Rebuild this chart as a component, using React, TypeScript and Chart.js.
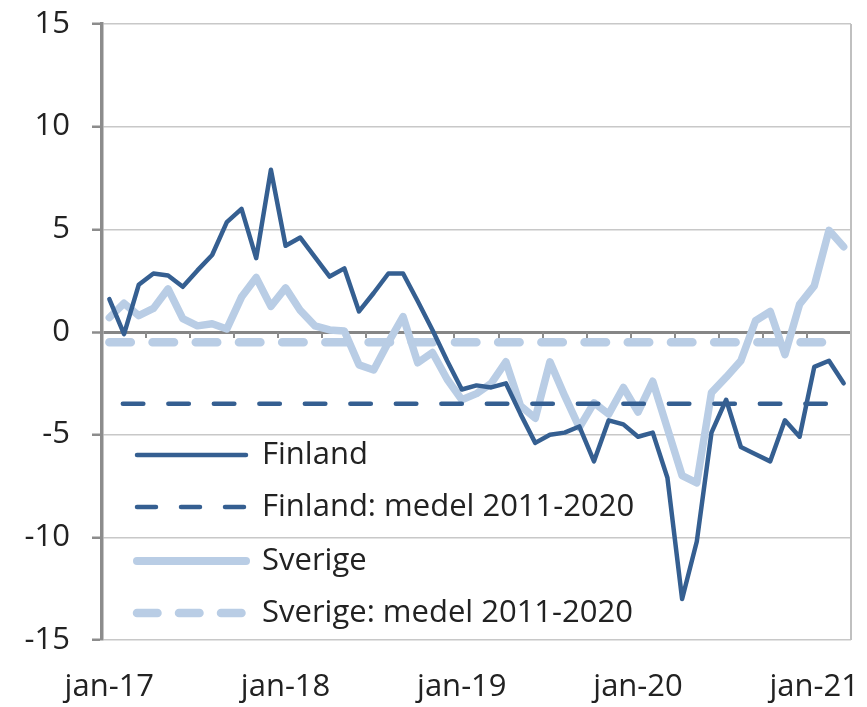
import React, { useEffect, useRef } from 'react';
import { Chart, registerables } from 'chart.js';

Chart.register(...registerables);

const months: string[] = [
  'jan-17', 'feb-17', 'mar-17', 'apr-17', 'maj-17', 'jun-17', 'jul-17', 'aug-17', 'sep-17', 'okt-17', 'nov-17', 'dec-17',
  'jan-18', 'feb-18', 'mar-18', 'apr-18', 'maj-18', 'jun-18', 'jul-18', 'aug-18', 'sep-18', 'okt-18', 'nov-18', 'dec-18',
  'jan-19', 'feb-19', 'mar-19', 'apr-19', 'maj-19', 'jun-19', 'jul-19', 'aug-19', 'sep-19', 'okt-19', 'nov-19', 'dec-19',
  'jan-20', 'feb-20', 'mar-20', 'apr-20', 'maj-20', 'jun-20', 'jul-20', 'aug-20', 'sep-20', 'okt-20', 'nov-20', 'dec-20',
  'jan-21', 'feb-21', 'mar-21',
];

const finland: number[] = [
  1.6, -0.1, 2.3, 2.85, 2.75, 2.2, 3.0, 3.75, 5.35, 6.0, 3.6, 7.9,
  4.2, 4.6, 3.65, 2.7, 3.1, 1.0, 1.9, 2.85, 2.85, 1.5, 0.1, -1.4,
  -2.8, -2.6, -2.7, -2.5, -4.0, -5.4, -5.0, -4.9, -4.6, -6.3, -4.3, -4.5,
  -5.1, -4.9, -7.1, -13.0, -10.2, -4.9, -3.3, -5.6, -5.95, -6.3, -4.3, -5.1,
  -1.7, -1.4, -2.5,
];

const sverige: number[] = [
  0.7, 1.4, 0.8, 1.15, 2.1, 0.65, 0.3, 0.4, 0.15, 1.7, 2.65, 1.25,
  2.15, 1.05, 0.3, 0.1, 0.05, -1.6, -1.85, -0.5, 0.75, -1.5, -1.0, -2.3,
  -3.3, -3.0, -2.5, -1.45, -3.6, -4.2, -1.45, -3.1, -4.65, -3.45, -4.0, -2.7,
  -3.9, -2.4, -4.7, -7.0, -7.35, -2.95, -2.2, -1.4, 0.55, 1.0, -1.1, 1.35,
  2.25, 4.95, 4.15,
];

const finlandMedel = -3.5;
const sverigeMedel = -0.5;

const seriesNames: string[] = ['Finland', 'Finland: medel 2011-2020', 'Sverige', 'Sverige: medel 2011-2020'];
const yTicks: number[] = [-15, -10, -5, 0, 5, 10, 15];

const DARK = '#355F91';
const LIGHT = '#B9CDE5';
const FONT = "'Open Sans', 'Liberation Sans', sans-serif";
const FONT_SIZE = 31;
const TEXT = '#222222';

const extrasPlugin = {
  id: 'extras',
  beforeDatasetsDraw(chart: any) {
    const { ctx, chartArea, scales } = chart;
    const xs = scales.x;
    const ys = scales.y;
    const y0 = ys.getPixelForValue(0);
    ctx.save();
    ctx.strokeStyle = '#c0c0c0';
    ctx.lineWidth = 2;
    ctx.beginPath();
    ctx.moveTo(chartArea.right, chartArea.top);
    ctx.lineTo(chartArea.right, chartArea.bottom);
    ctx.stroke();
    const n = months.length;
    const step = (xs.right - xs.left) / n;
    ctx.strokeStyle = '#8c8c8c';
    ctx.lineWidth = 2;
    for (let i = 3; i < n; i += 3) {
      const x = Math.round(xs.left + step * i);
      ctx.beginPath();
      ctx.moveTo(x, y0);
      ctx.lineTo(x, y0 + 6);
      ctx.stroke();
    }
    ctx.restore();
  },
  afterDatasetsDraw(chart: any) {
    const { ctx, chartArea } = chart;
    const x0 = chartArea.left + 35;
    const x1 = chartArea.left + 144;
    const tx = chartArea.left + 160;
    const rows = [455, 507, 561, 613];
    const styles = [
      { color: DARK, width: 4.5, dash: [] as number[] },
      { color: DARK, width: 4.5, dash: [19, 25] },
      { color: LIGHT, width: 8, dash: [] as number[] },
      { color: LIGHT, width: 8.5, dash: [20.5, 21.5] },
    ];
    ctx.save();
    seriesNames.forEach((name, k) => {
      const s = styles[k];
      const y = rows[k];
      ctx.strokeStyle = s.color;
      ctx.lineWidth = s.width;
      ctx.lineCap = 'round';
      ctx.setLineDash(s.dash);
      ctx.beginPath();
      ctx.moveTo(x0, y);
      ctx.lineTo(x1, y);
      ctx.stroke();
      ctx.setLineDash([]);
      ctx.fillStyle = TEXT;
      ctx.font = `${FONT_SIZE}px ${FONT}`;
      ctx.textBaseline = 'middle';
      ctx.textAlign = 'left';
      ctx.fillText(name, tx, y);
    });
    ctx.restore();
  },
};

export default function App() {
  const ref = useRef<HTMLCanvasElement | null>(null);

  useEffect(() => {
    if (!ref.current) return;
    const chart = new Chart(ref.current, {
      type: 'line',
      data: {
        labels: months,
        datasets: [
          {
            label: seriesNames[0],
            data: finland,
            borderColor: DARK,
            borderWidth: 4.5,
            pointRadius: 0,
            tension: 0,
            borderJoinStyle: 'round',
            borderCapStyle: 'round',
          },
          {
            label: seriesNames[1],
            data: months.map(() => finlandMedel),
            borderColor: DARK,
            borderWidth: 4.5,
            borderDash: [20.5, 25],
            borderDashOffset: 32,
            borderCapStyle: 'round',
            pointRadius: 0,
          },
          {
            label: seriesNames[2],
            data: sverige,
            borderColor: LIGHT,
            borderWidth: 7.5,
            pointRadius: 0,
            tension: 0,
            borderJoinStyle: 'round',
            borderCapStyle: 'round',
          },
          {
            label: seriesNames[3],
            data: months.map(() => sverigeMedel),
            borderColor: LIGHT,
            borderWidth: 8.5,
            borderDash: [21.5, 21.7],
            borderCapStyle: 'round',
            pointRadius: 0,
          },
        ],
      },
      options: {
        responsive: false,
        animation: false,
        devicePixelRatio: 1,
        layout: { padding: { left: 0, right: 16, top: 24, bottom: 0 } },
        plugins: {
          legend: { display: false },
          tooltip: { enabled: false },
        },
        scales: {
          x: {
            type: 'category',
            offset: true,
            grid: { display: false, drawTicks: false },
            border: { display: false },
            ticks: {
              autoSkip: false,
              maxRotation: 0,
              minRotation: 0,
              padding: 29,
              color: TEXT,
              font: { family: FONT, size: FONT_SIZE },
              callback: (_v: any, i: number) => (i % 12 === 0 ? months[i] : ''),
            },
            afterFit: (s: any) => {
              s.height = 67;
              s.paddingLeft = 0;
              s.paddingRight = 0;
            },
          },
          y: {
            min: yTicks[0],
            max: yTicks[yTicks.length - 1],
            afterBuildTicks: (s: any) => {
              s.ticks = yTicks.map((v) => ({ value: v }));
            },
            ticks: {
              padding: 22,
              color: TEXT,
              font: { family: FONT, size: FONT_SIZE },
            },
            grid: {
              color: (c: any) => (c.tick && c.tick.value === 0 ? '#868686' : '#c8c8c8'),
              lineWidth: (c: any) => (c.tick && c.tick.value === 0 ? 3 : 1.5),
              tickColor: '#8c8c8c',
              tickLength: 10,
              tickWidth: 2.5,
            },
            border: { color: '#8c8c8c', width: 3.5 },
            afterFit: (s: any) => {
              s.width = 102;
              s.paddingTop = 0;
              s.paddingBottom = 0;
            },
          },
        },
      },
      plugins: [extrasPlugin],
    } as any);
    return () => chart.destroy();
  }, []);

  return (
    <div style={{ position: 'fixed', left: 0, top: 0, width: 867, height: 707, background: '#ffffff' }}>
      <canvas ref={ref} width={867} height={707} style={{ width: 867, height: 707, display: 'block' }} />
    </div>
  );
}
